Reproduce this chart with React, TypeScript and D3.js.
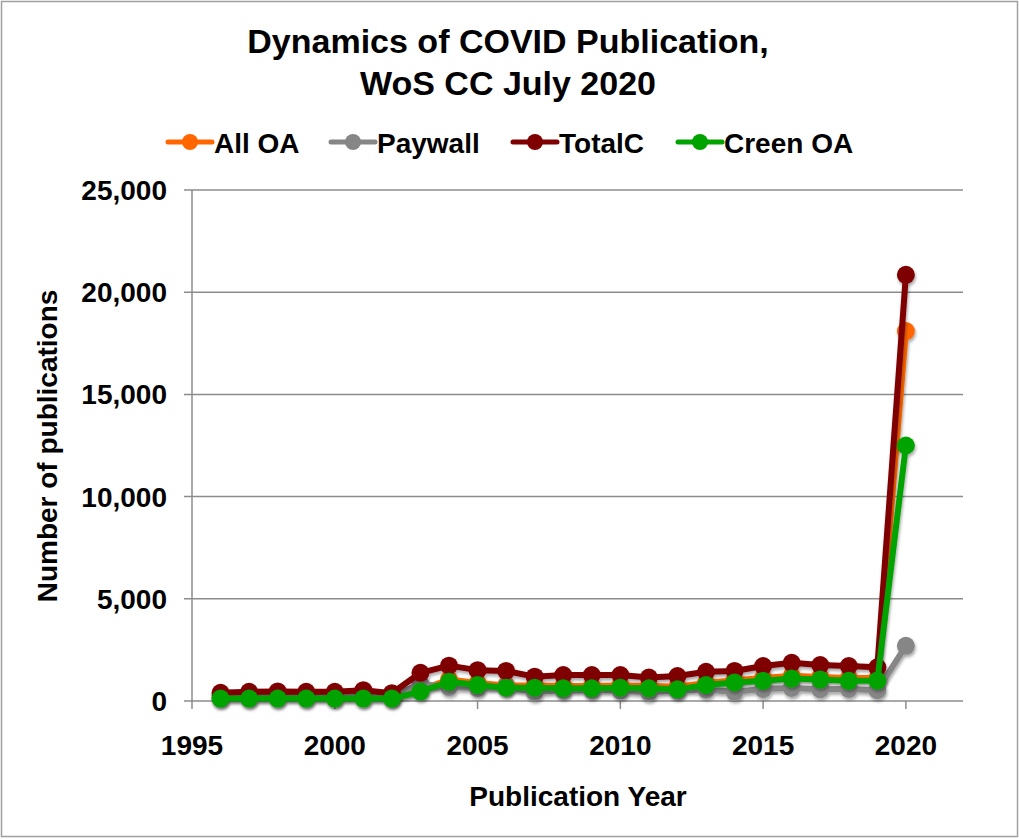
import * as d3 from 'd3';
import React from 'react';

const years = d3.range(1996, 2021);
const allOA = [150, 150, 150, 150, 150, 150, 150, 550, 1050, 880, 760, 760, 730, 730, 760, 730, 700, 880, 1020, 1120, 1230, 1180, 1120, 1120, 18100];
const paywall = [280, 300, 320, 300, 300, 380, 230, 830, 680, 630, 710, 430, 540, 540, 510, 420, 520, 550, 450, 590, 640, 580, 590, 530, 2700];
const totalC = [400, 450, 470, 450, 450, 530, 380, 1380, 1730, 1510, 1470, 1190, 1270, 1270, 1270, 1150, 1220, 1430, 1470, 1710, 1870, 1760, 1710, 1650, 20850];
const greenOA = [120, 120, 120, 120, 120, 120, 120, 460, 940, 780, 650, 650, 620, 620, 650, 620, 570, 780, 910, 990, 1100, 1050, 990, 1000, 12500];

const seriesNames = ['All OA', 'Paywall', 'TotalC', 'Creen OA'];
const seriesColors = ['#ff6600', '#868686', '#7f0000', '#00a300'];
const seriesValues = [allOA, paywall, totalC, greenOA];

const yTicks = [0, 5000, 10000, 15000, 20000, 25000];
const xTicks = [1995, 2000, 2005, 2010, 2015, 2020];

const titleLines = ['Dynamics of COVID Publication,', 'WoS CC July 2020'];
const xTitle = 'Publication Year';
const yTitle = 'Number of publications';

// legend positions (marker centre x, text start x)
const legendX = [190, 353, 535, 700];

export default function App() {
  const width = 1019;
  const height = 839;
  const font = '"Liberation Sans", Arial, Helvetica, sans-serif';

  const x = d3.scaleLinear().domain([1995, 2022]).range([192, 963]);
  const y = d3.scaleLinear().domain([0, 25000]).range([701, 190]);
  const fmt = d3.format(',');

  const line = d3
    .line<number>()
    .x((_, i) => x(years[i]))
    .y(d => y(d));

  return (
    <div style={{ position: 'absolute', left: 0, top: 0 }}>
      <svg width={width} height={height} style={{ display: 'block', background: '#fff' }} fontFamily={font}>
        <defs>
          <filter id="shadow" x="-20%" y="-20%" width="140%" height="140%">
            <feDropShadow dx="1" dy="2.5" stdDeviation="1.6" floodColor="#000" floodOpacity="0.35" />
          </filter>
        </defs>
        <rect x={1.5} y={1.5} width={width - 3} height={height - 4} fill="#fff" stroke="#a0a0a0" strokeWidth={1.5} />

        {/* title */}
        {titleLines.map((t, i) => (
          <text key={t} x={508} y={53 + i * 42} textAnchor="middle" fontSize={34} fontWeight="bold">
            {t}
          </text>
        ))}

        {/* legend */}
        {seriesNames.map((name, i) => (
          <g key={name}>
            <line x1={legendX[i] - 22} x2={legendX[i] + 22} y1={142} y2={142} stroke={seriesColors[i]} strokeWidth={5} strokeLinecap="round" />
            <circle cx={legendX[i]} cy={142} r={8} fill={seriesColors[i]} />
            <text x={legendX[i] + 24} y={153} fontSize={28} fontWeight="bold">
              {name}
            </text>
          </g>
        ))}

        {/* grid and y axis */}
        {yTicks.map(t => (
          <g key={t}>
            {t > 0 && <line x1={184} x2={963} y1={y(t)} y2={y(t)} stroke="#8c8c8c" strokeWidth={1.5} />}
            <text x={167} y={y(t) + 10} textAnchor="end" fontSize={28} fontWeight="bold">
              {fmt(t)}
            </text>
          </g>
        ))}
        <line x1={192} x2={192} y1={190} y2={701} stroke="#8c8c8c" strokeWidth={1.5} />
        <line x1={184} x2={963} y1={701} y2={701} stroke="#8c8c8c" strokeWidth={1.5} />
        {xTicks.map(t => (
          <g key={t}>
            <line x1={x(t)} x2={x(t)} y1={701} y2={709} stroke="#8c8c8c" strokeWidth={1.5} />
            <text x={x(t)} y={755} textAnchor="middle" fontSize={28} fontWeight="bold">
              {t}
            </text>
          </g>
        ))}

        {/* axis titles */}
        <text x={578} y={806} textAnchor="middle" fontSize={28} fontWeight="bold">
          {xTitle}
        </text>
        <text transform="translate(57,446) rotate(-90)" textAnchor="middle" fontSize={28} fontWeight="bold">
          {yTitle}
        </text>

        {/* series */}
        {seriesValues.map((vals, i) => (
          <g key={seriesNames[i]} filter="url(#shadow)">
            <path d={line(vals) ?? ''} fill="none" stroke={seriesColors[i]} strokeWidth={6} strokeLinejoin="round" />
            {vals.map((v, j) => (
              <circle key={j} cx={x(years[j])} cy={y(v)} r={9} fill={seriesColors[i]} />
            ))}
          </g>
        ))}
      </svg>
    </div>
  );
}
